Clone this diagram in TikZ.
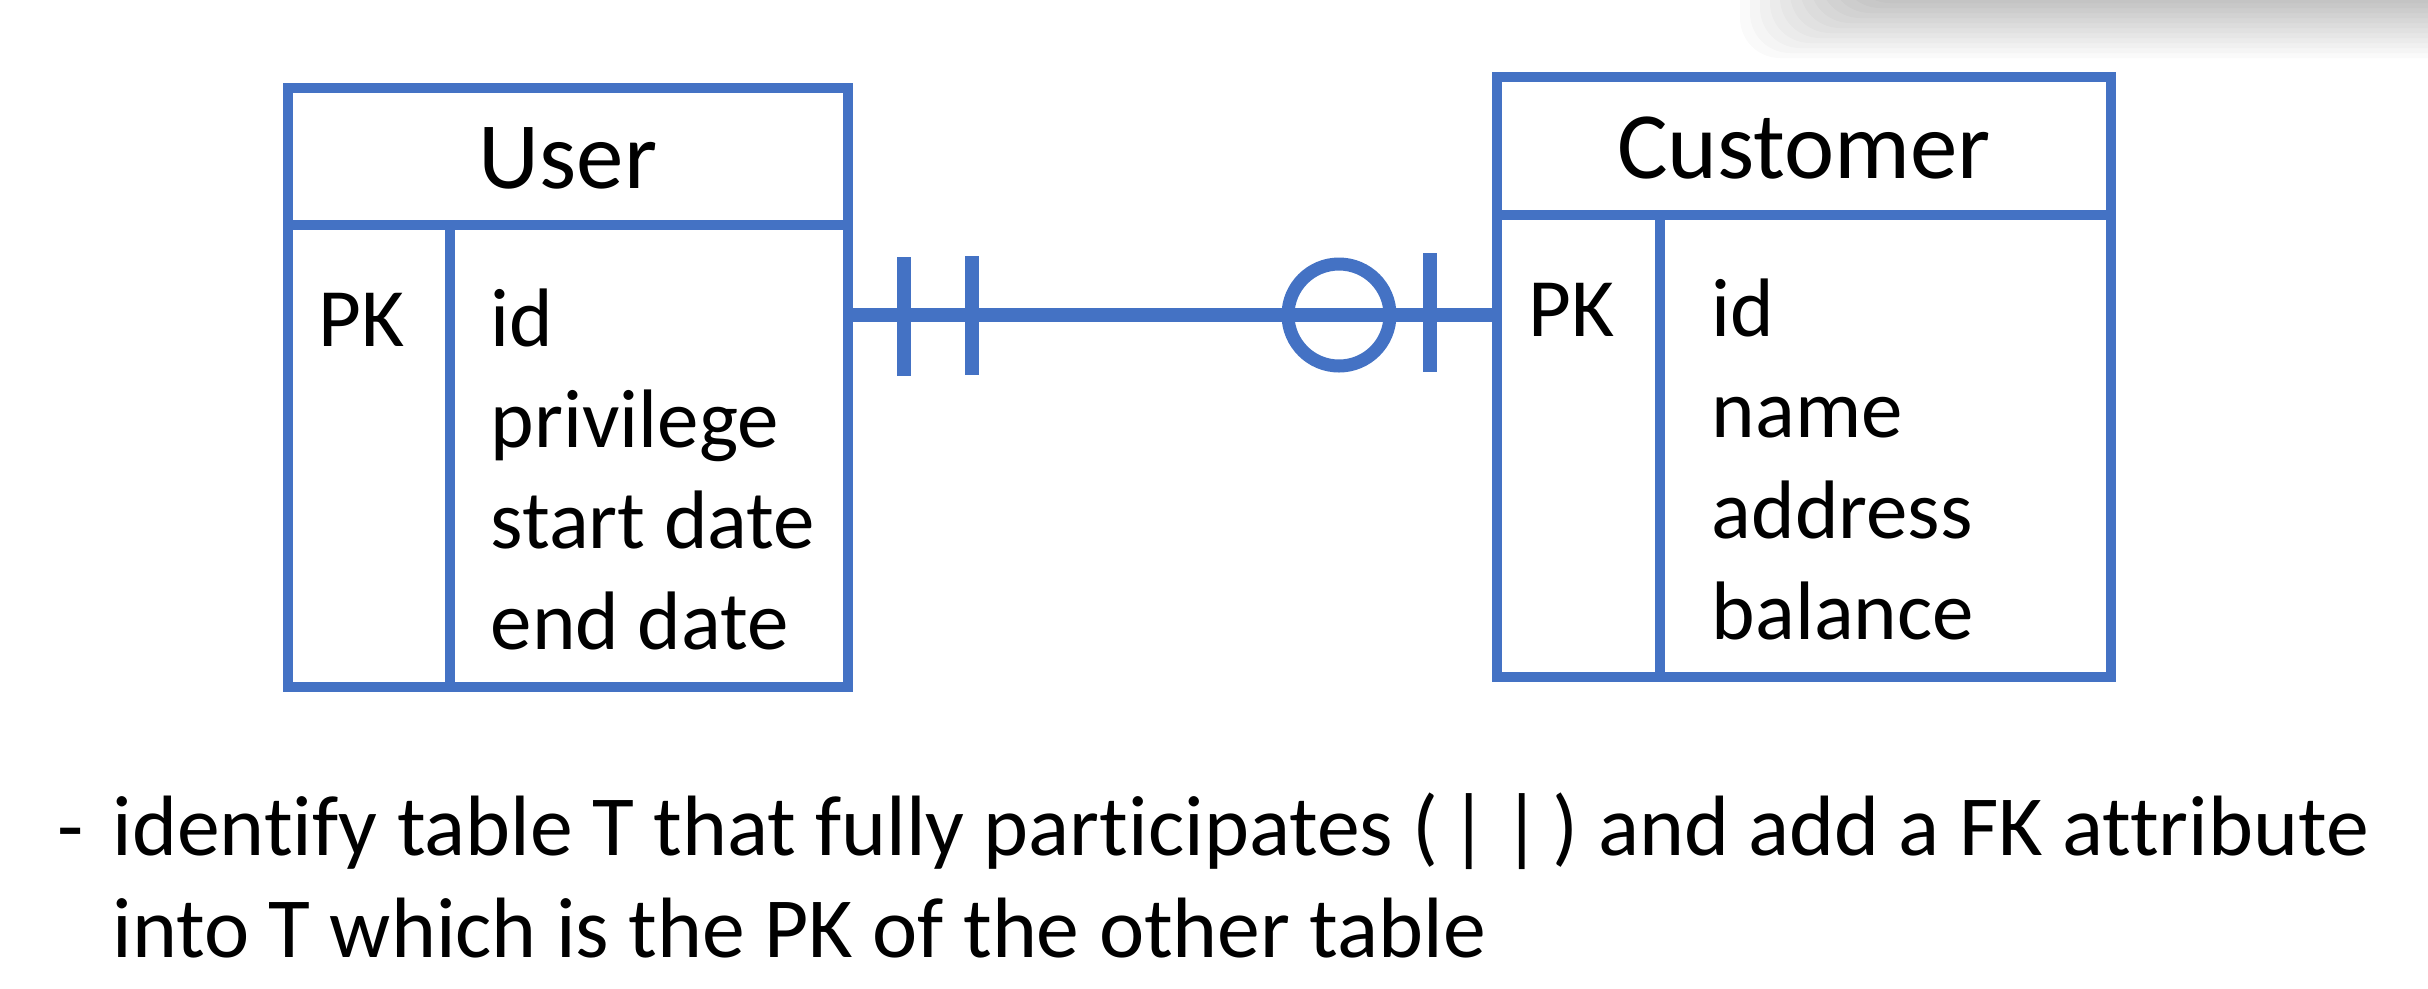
\documentclass[tikz,border=0pt]{standalone}
\usepackage{fontspec}
\setmainfont{Carlito}[Ligatures={NoCommon}]
\definecolor{erblue}{HTML}{4472C4}
\begin{document}
\begin{tikzpicture}[x=0.3pt,y=-0.3pt,
  tbl/.style={draw=erblue, line width=3.15pt, rectangle, inner sep=0pt, outer sep=0pt},
  rule/.style={draw=erblue, line width=3.15pt},
  conn/.style={draw=erblue, line width=4.2pt},
  ring/.style={draw=erblue, line width=3.9pt},
  attr/.style={anchor=base west, inner sep=0pt, font=\fontsize{24.9pt}{30pt}\selectfont},
  ttl/.style={anchor=base, inner sep=0pt, font=\fontsize{28.5pt}{34pt}\selectfont},
  note/.style={anchor=base west, inner sep=0pt, font=\fontsize{25.7pt}{31pt}\selectfont}]
\useasboundingbox (0,0) rectangle (2428,988);
\fill[white] (0,0) rectangle (2428,988);
% soft shadow at the top right
\begin{scope}
  \clip (0,0) rectangle (2428,988);
  \foreach \k in {0,...,11} {
    \fill[black, opacity=0.018, rounded corners=12pt] (1740+\k*10,-300) rectangle (2700,58-\k*5);
  }
\end{scope}
% tables
\node[tbl, minimum width=168pt, minimum height=179.7pt] (user) at (568,387.5) {};
\node[tbl, minimum width=184.2pt, minimum height=180pt] (cust) at (1804,377) {};
\coordinate (uh) at (450,225);
\coordinate (ch) at (1660,215);
\draw[rule] (user.west |- uh) -- (user.east |- uh);
\draw[rule] (uh) -- (uh |- user.south);
\draw[rule] (cust.west |- ch) -- (cust.east |- ch);
\draw[rule] (ch) -- (ch |- cust.south);
% texts
\node[ttl] (utitle) at (568,188) {User};
\node[attr] (upk) at (318,346) {PK};
\node[attr] (u1) at (490,346) {id};
\node[attr] (u2) at (490,447) {privilege};
\node[attr] (u3) at (490,548) {start date};
\node[attr] (u4) at (490,649) {end date};
\node[ttl] (ctitle) at (1804,178) {Customer};
\node[attr] (cpk) at (1528,336) {PK};
\node[attr] (c1) at (1711,336) {id};
\node[attr] (c2) at (1711,437) {name};
\node[attr] (c3) at (1711,538) {address};
\node[attr] (c4) at (1711,639) {balance};
% relationship
\coordinate (ly) at (0,315);
\draw[conn] (user.east |- ly) -- (cust.west |- ly);
\draw[conn] (904,257) -- (904,376);
\draw[conn] (972,256) -- (972,375);
\draw[ring] (1339,315) circle[radius=51];
\draw[conn] (1430,253) -- (1430,372);
% note
\node[note] (dash) at (57,855) {-};
\node[note] (n1) at (112,855) {identify table T that fully participates (\hspace{3.2pt}|\hspace{4.2pt}|\hspace{3.2pt}) and add a FK attribute};
\node[note] (n2) at (112,957) {into T which is the PK of the other table};
\end{tikzpicture}
\end{document}
